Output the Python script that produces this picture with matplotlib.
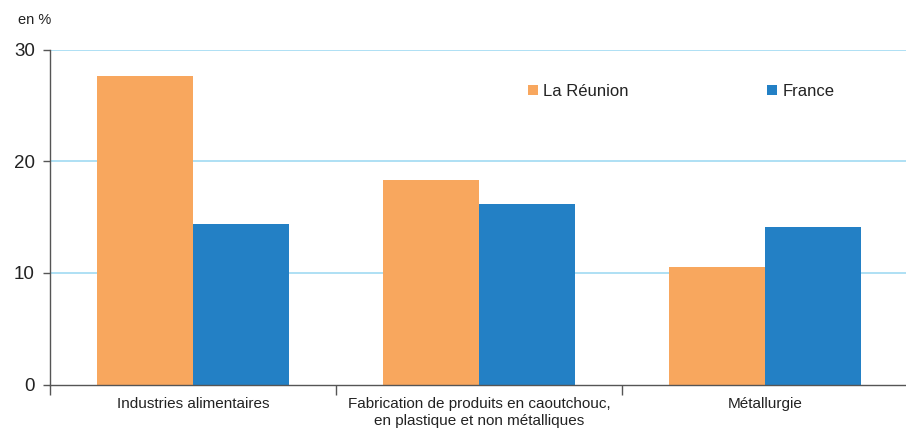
import matplotlib
matplotlib.use("Agg")
import matplotlib.pyplot as plt
from matplotlib import font_manager
import numpy as np

categories = ["Industries alimentaires",
              "Fabrication de produits en caoutchouc,\nen plastique et non métalliques",
              "Métallurgie"]
reunion = [27.6, 18.3, 10.5]
france = [14.4, 16.2, 14.1]
series_names = ["La Réunion", "France"]
yticks = [0, 10, 20, 30]

available = {f.name for f in font_manager.fontManager.ttflist}
family = "Liberation Sans Narrow" if "Liberation Sans Narrow" in available else "Liberation Sans"
plt.rcParams["font.family"] = [family, "DejaVu Sans"]

orange = "#F8A75E"
blue = "#2380C5"
grid_col = "#A8DDF3"
axis_col = "#555555"
text_col = "#222222"

fig = plt.figure(figsize=(9.06, 4.28), dpi=100)
ax = fig.add_axes([50 / 906, (428 - 384.5) / 428, 858 / 906, (384.5 - 49.5) / 428])

x = np.arange(len(categories))
w = 0.336
ax.bar(x - w / 2, reunion, width=w, color=orange, zorder=3, label=series_names[0])
ax.bar(x + w / 2, france, width=w, color=blue, zorder=3, label=series_names[1])

ax.set_xlim(-0.5, 2.5)
ax.set_ylim(0, 30)
ax.set_yticks(yticks)
ax.set_yticklabels([str(t) for t in yticks], fontsize=13.5, color=text_col)
for t in yticks[1:]:
    ax.axhline(t, color=grid_col, lw=1.3, zorder=1)

ax.set_xticks(x)
ax.set_xticklabels(categories, fontsize=11, color=text_col, linespacing=1.25)
ax.tick_params(axis="x", which="major", length=0, pad=9)
ax.set_xticks([-0.5, 0.5, 1.5], minor=True)
ax.tick_params(axis="x", which="minor", length=7, width=1, color=axis_col, direction="out")
ax.tick_params(axis="y", length=5, width=1, color=axis_col, direction="out", pad=6)

for side in ["top", "right"]:
    ax.spines[side].set_visible(False)
for side in ["left", "bottom"]:
    ax.spines[side].set_color(axis_col)
    ax.spines[side].set_linewidth(1)
ax.spines["bottom"].set_zorder(4)

fig.text(18 / 906, 1 - 20 / 428, "en %", fontsize=10.5, color=text_col, va="center", ha="left")

leg = ax.legend(loc="upper left", bbox_to_anchor=(471 / 858, (384.5 - 77) / 335),
                ncol=2, frameon=False, fontsize=12, handlelength=0.6, handleheight=0.6,
                handletextpad=0.3, columnspacing=8.35, borderaxespad=0)
for txt in leg.get_texts():
    txt.set_color(text_col)

fig.savefig("out.png", dpi=100)
